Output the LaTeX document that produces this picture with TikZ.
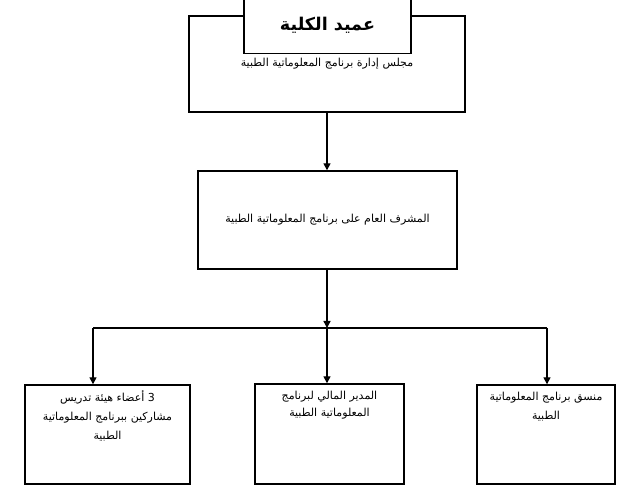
\documentclass[tikz,border=0pt]{standalone}
\usepackage{fontspec}
\newfontfamily\arabicfont[Script=Arabic]{DejaVu Sans}
\TeXXeTstate=1
\usepackage{tikz}
\usetikzlibrary{arrows.meta, positioning}
\newcommand{\artext}[1]{\beginR#1\endR}

\begin{document}
\begin{tikzpicture}[
    box/.style={rectangle, draw, line width=1.2pt, inner sep=0pt},
    lbl/.style={font=\arabicfont\fontsize{9.4}{16}\selectfont, align=center, inner sep=1pt},
    arr/.style={-{Triangle[width=6pt, length=6pt]}, line width=1.2pt}]

  \useasboundingbox (0,0) rectangle (18.78,-14.79);

  % Board and dean
  \node[box, minimum width=8.28cm, minimum height=2.88cm, lbl] (board) at (9.81,-1.92) {\artext{مجلس إدارة برنامج المعلوماتية الطبية}};
  \node[box, fill=white, minimum width=5.01cm, minimum height=1.7cm, font=\arabicfont\bfseries\fontsize{15}{17}\selectfont] (dean) at (9.825,-0.75) {\artext{عميد الكلية}};

  % General supervisor
  \node[box, minimum width=7.77cm, minimum height=2.94cm, lbl] (super) at (9.825,-6.6) {\artext{المشرف العام على برنامج المعلوماتية الطبية}};

  % Lower boxes
  \node[box, minimum width=4.95cm, minimum height=2.97cm] (staff) at (3.225,-13.035) {};
  \node[box, minimum width=4.47cm, minimum height=3.0cm] (finance) at (9.885,-13.02) {};
  \node[box, minimum width=4.14cm, minimum height=2.97cm] (coord) at (16.38,-13.035) {};

  \node[lbl, below=0.15cm of staff.north] (staffT) {\artext{3 أعضاء هيئة تدريس}\\ \artext{مشاركين ببرنامج المعلوماتية}\\ \artext{الطبية}};
  \node[lbl, below=0.2cm of finance.north, font=\arabicfont\fontsize{9.4}{14}\selectfont] (financeT) {\artext{المدير المالي لبرنامج}\\ \artext{المعلوماتية الطبية}};
  \node[lbl, below=0.2cm of coord.north] (coordT) {\artext{منسق برنامج المعلوماتية}\\ \artext{الطبية}};

  % Connectors
  \coordinate (jl) at (2.79,-9.84);
  \coordinate (jm) at (9.81,-9.84);
  \coordinate (jr) at (16.41,-9.84);

  \draw[arr] (board.south -| jm) -- (super.north -| jm);
  \draw[arr] (super.south -| jm) -- (jm);
  \draw[line width=1.2pt] (jl) -- (jr);
  \draw[arr] (jl) -- (jl |- staff.north);
  \draw[arr] (jm) -- (jm |- finance.north);
  \draw[arr] (jr) -- (jr |- coord.north);
\end{tikzpicture}
\end{document}
